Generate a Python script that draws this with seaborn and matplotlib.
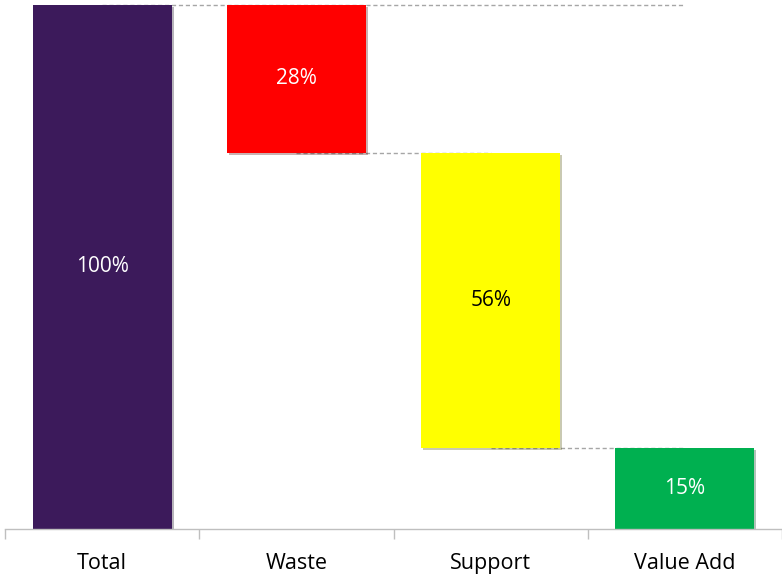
import matplotlib
matplotlib.use("Agg")
import matplotlib.pyplot as plt
import matplotlib.patheffects as pe
import seaborn as sns
import pandas as pd

categories = ["Total", "Waste", "Support", "Value Add"]
values = [100.0, 28.2, 56.4, 15.4]
colors = ["#3C1A5B", "#FF0000", "#FFFF00", "#00B050"]
label_colors = ["white", "white", "black", "white"]

# waterfall geometry
tops, bases = [], []
level = values[0]
tops.append(values[0]); bases.append(0.0)
for v in values[1:]:
    tops.append(level)
    bases.append(level - v)
    level -= v
bases[-1] = 0.0

sns.set_theme(style="white")
plt.rcParams["font.family"] = ["Open Sans", "DejaVu Sans"]

fig = plt.figure(figsize=(7.82, 5.74), dpi=100)
ax = fig.add_axes([5/782, 45/574, 777/782, 524/574])

df = pd.DataFrame({"cat": categories, "top": tops})
sns.barplot(data=df, x="cat", y="top", hue="cat", palette=colors,
            width=0.715, legend=False, ax=ax, saturation=1, linewidth=0)

for patch, b, t in zip(ax.patches, bases, tops):
    patch.set_y(b)
    patch.set_height(t - b)
    patch.set_path_effects([pe.SimplePatchShadow(offset=(1.5, -1.5), alpha=0.3),
                            pe.Normal()])

# connector lines
conn = [(values[0], 0, 3), (tops[2], 1, 2), (tops[3], 2, 3)]
for y, x0, x1 in conn:
    ax.plot([x0, x1], [y, y], ls=(0, (3, 2)), color="#A6A6A6", lw=1.0, zorder=0.5,
            clip_on=False)

for i, (v, b, t) in enumerate(zip(values, bases, tops)):
    ax.text(i, (b + t) / 2, f"{v:.0f}%", ha="center", va="center",
            color=label_colors[i], fontsize=15)

ax.set_xlim(-0.5, 3.5)
ax.set_ylim(0, 100)
ax.set_xlabel("")
ax.set_ylabel("")
ax.set_yticks([])
for s in ["top", "right", "left"]:
    ax.spines[s].set_visible(False)
ax.spines["bottom"].set_color("#BFBFBF")
ax.spines["bottom"].set_linewidth(1.0)
ax.tick_params(axis="x", which="major", length=0, labelsize=15.5, pad=17, colors="black")
ax.set_xticks([-0.5, 0.5, 1.5, 2.5, 3.5], minor=True)
ax.tick_params(axis="x", which="minor", length=7, width=1, color="#BFBFBF", bottom=True)
for lbl in ax.get_xticklabels():
    lbl.set_color("#000000")

fig.savefig("out.png", dpi=100)
